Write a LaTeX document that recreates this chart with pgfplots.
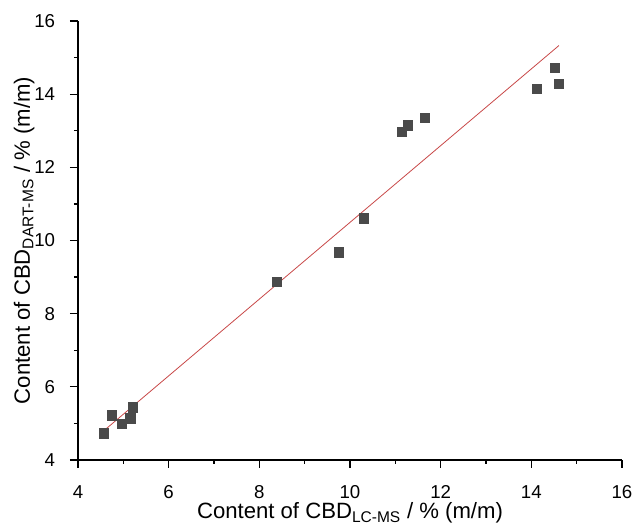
\documentclass[border=0pt]{standalone}
\usepackage{fontspec}
\setmainfont{Liberation Sans}
\usepackage{pgfplots}
\pgfplotsset{compat=1.18}
\definecolor{mk}{HTML}{4A4A4A}
\definecolor{fitred}{HTML}{C84848}

\newcommand\tickfont{\fontsize{14}{16}\selectfont}
\newcommand\labfont{\fontsize{16.6}{20}\selectfont}

\begin{document}
\begin{tikzpicture}
\begin{axis}[
    scale only axis,
    width=408pt, height=329.25pt,
    xmin=4, xmax=16, ymin=4, ymax=16,
    xtick={4,6,...,16}, ytick={4,6,...,16},
    minor tick num=1,
    axis x line*=bottom, axis y line*=left,
    axis line style={-, line width=1pt},
    tick align=outside,
    major tick length=6pt, minor tick length=3pt,
    every tick/.style={black, line width=0.9pt},
    /pgf/number format/assume math mode=true,
    xticklabel={\tickfont\pgfmathprintnumber{\tick}},
    yticklabel={\tickfont\pgfmathprintnumber{\tick}},
    xticklabel style={anchor=north, inner sep=0pt, yshift=-13pt},
    yticklabel style={anchor=east, inner sep=0pt, xshift=-11pt},
    xlabel={Content of CBD\textsubscript{LC-MS} / \% (m/m)},
    ylabel={Content of CBD\textsubscript{DART-MS} / \% (m/m)},
    every axis x label/.style={font=\labfont, at={(axis description cs:0.5,0)}, anchor=base, inner sep=0pt, yshift=-44.25pt},
    every axis y label/.style={font=\labfont, at={(axis description cs:0,0.5)}, xshift=-36pt, rotate=90, anchor=base, inner sep=0pt},
    clip=false,
]
% linear fit
\addplot[fitred, line width=0.6pt] coordinates {(4.57,4.80) (14.61,15.33)};
% measured samples
\addplot[only marks, mark=square*, mark size=3.5pt,
    mark options={fill=mk, draw=mk, line width=0.3pt}] coordinates {
(4.56,4.73) (4.75,5.22) (4.97,4.99) (5.15,5.14) (5.20,5.44)
(8.39,8.88) (9.75,9.68) (10.30,10.61)
(11.14,12.97) (11.28,13.15) (11.65,13.35)
(14.12,14.15) (14.51,14.73) (14.60,14.28)
};
\end{axis}
\pgfresetboundingbox
\path[use as bounding box] ([shift={(-58.5pt,-50.25pt)}]current axis.south west) rectangle ([shift={(8.25pt,15.75pt)}]current axis.north east);
\end{tikzpicture}
\end{document}
